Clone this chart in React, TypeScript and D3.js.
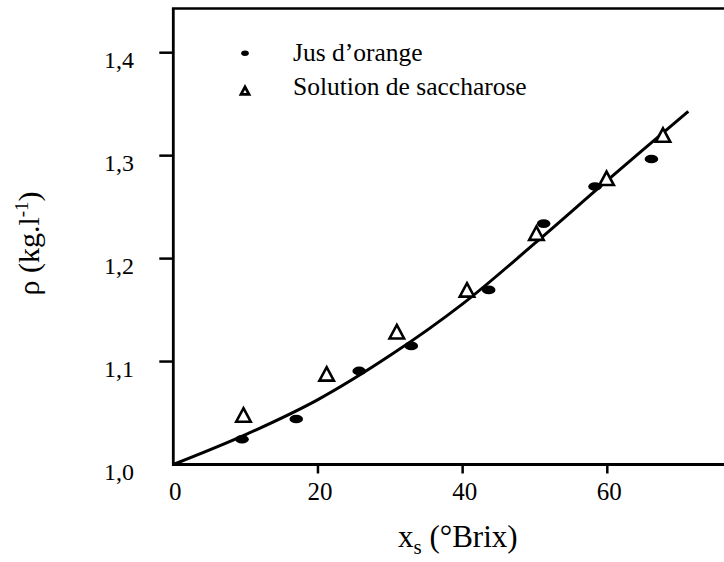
import React from "react";
import * as d3 from "d3";

// ---- data ----
const jusX = [9.5, 17.0, 25.7, 32.9, 43.6, 51.2, 58.3, 66.1];
const jusY = [1.0245, 1.0442, 1.0909, 1.1152, 1.1696, 1.234, 1.27, 1.2967];
const sacX = [9.7, 21.2, 30.9, 40.6, 50.2, 59.9, 67.7];
const sacY = [1.0481, 1.088, 1.129, 1.1696, 1.2247, 1.278, 1.32];
const fitX = [0, 10, 20, 30, 40, 50, 60, 71.2];
const fitY = [1.0, 1.029, 1.063, 1.106, 1.156, 1.215, 1.276, 1.343];
const xTicks = [0, 20, 40, 60];
const yTicks = [1.0, 1.1, 1.2, 1.3, 1.4];
const legendLabels = ["Jus d\u2019orange", "Solution de saccharose"];

const W = 724;
const H = 562;
const FONT = "'Liberation Serif', 'Times New Roman', serif";

const x = d3.scaleLinear().domain([0, 60]).range([173.3, 607.3]);
const y = d3.scaleLinear().domain([1.0, 1.4]).range([464.5, 52.7]);
const yTopVal = 1.443;

const locale = d3.formatLocale({ decimal: ",", thousands: " ", grouping: [3], currency: ["", ""] });
const fmtY = locale.format(".1f");

function tri(cx: number, cy: number, w: number, h: number) {
  return `M${cx},${cy - h / 2}L${cx + w / 2},${cy + h / 2}L${cx - w / 2},${cy + h / 2}Z`;
}

export default function App() {
  const fitPts: [number, number][] = fitX.map((v, i) => [v, fitY[i]]);
  const line = d3
    .line<[number, number]>()
    .x((d) => x(d[0]))
    .y((d) => y(d[1]))
    .curve(d3.curveCatmullRom.alpha(0.5));

  const x0 = x(0);
  const yBase = y(1.0);
  const yTop = y(yTopVal);

  return (
    <div style={{ position: "fixed", left: 0, top: 0 }}>
      <svg width={W} height={H} style={{ display: "block", background: "#fff" }}>
        <rect x={0} y={0} width={W} height={H} fill="#fff" />
        {/* frame */}
        <line x1={x0} x2={W + 5} y1={yBase} y2={yBase} stroke="#000" strokeWidth={2.8} />
        <line x1={x0} x2={x0} y1={yBase + 1.4} y2={yTop} stroke="#000" strokeWidth={2.8} />
        <line x1={x0 - 1.4} x2={W + 5} y1={yTop} y2={yTop} stroke="#000" strokeWidth={2.5} />

        {/* y ticks */}
        {yTicks.map((t) => (
          <g key={"y" + t}>
            {t !== 1.0 && (
              <line x1={x0 - 14} x2={x0} y1={y(t)} y2={y(t)} stroke="#000" strokeWidth={2.5} />
            )}
            <text
              x={134}
              y={y(t) + 15}
              textAnchor="end"
              fontFamily={FONT}
              fontSize={24}
              fill="#000"
            >
              {fmtY(t)}
            </text>
          </g>
        ))}

        {/* x ticks */}
        {xTicks.map((t) => (
          <g key={"x" + t}>
            {t !== 0 && (
              <line x1={x(t)} x2={x(t)} y1={yBase} y2={yBase + 9} stroke="#000" strokeWidth={2.5} />
            )}
            <text
              x={x(t) + 2}
              y={500}
              textAnchor="middle"
              fontFamily={FONT}
              fontSize={25}
              fill="#000"
            >
              {String(t)}
            </text>
          </g>
        ))}

        {/* axis titles */}
        <text x={398} y={547} fontFamily={FONT} fontSize={31} fill="#000">
          x
          <tspan fontSize={21} dy={7}>
            s
          </tspan>
          <tspan dy={-7}> (°Brix)</tspan>
        </text>
        <text
          transform="translate(39,243.5) rotate(-90)"
          textAnchor="middle"
          fontFamily={FONT}
          fontSize={30}
          fill="#000"
        >
          ρ (kg.l
          <tspan fontSize={19} dy={-11}>
            -1
          </tspan>
          <tspan dy={11}>)</tspan>
        </text>

        {/* fitted curve */}
        <path d={line(fitPts) || ""} fill="none" stroke="#000" strokeWidth={3} />

        {/* jus d'orange points */}
        {jusX.map((v, i) => (
          <ellipse key={"j" + i} cx={x(v)} cy={y(jusY[i])} rx={6.8} ry={4.3} fill="#000" />
        ))}

        {/* saccharose points */}
        {sacX.map((v, i) => (
          <path
            key={"s" + i}
            d={tri(x(v), y(sacY[i]), 14.5, 13.5)}
            fill="#fff"
            stroke="#000"
            strokeWidth={2.6}
            strokeLinejoin="miter"
          />
        ))}

        {/* legend */}
        <ellipse cx={245} cy={53.3} rx={3.8} ry={2.7} fill="#000" />
        <text x={293} y={61} fontFamily={FONT} fontSize={25.5} fill="#000">
          {legendLabels[0]}
        </text>
        <path d={tri(245, 90.7, 8, 7.5)} fill="#fff" stroke="#000" strokeWidth={2.8} />
        <text x={293} y={95} fontFamily={FONT} fontSize={25.5} fill="#000">
          {legendLabels[1]}
        </text>
      </svg>
    </div>
  );
}
